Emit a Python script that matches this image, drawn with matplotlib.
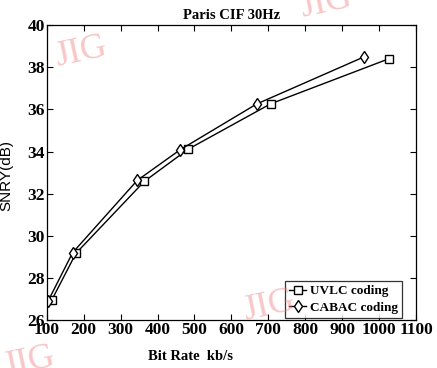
import numpy as np
import matplotlib
matplotlib.use('Agg')
import matplotlib.pyplot as plt

plt.rcParams['font.family'] = ['Liberation Serif', 'DejaVu Serif']

# values
uvlc_rate = [114, 179, 364, 482, 706, 1028]
uvlc_snr = [26.97, 29.17, 32.58, 34.10, 36.26, 38.41]
cabac_rate = [104, 170, 345, 461, 668, 958]
cabac_snr = [26.92, 29.20, 32.63, 34.08, 36.25, 38.48]

xticks = list(range(100, 1101, 100))
yticks = list(range(26, 41, 2))

fig = plt.figure(figsize=(4.37, 3.68), dpi=100)
ax = fig.add_axes([0.107, 0.130, 0.845, 0.802])

ax.plot(uvlc_rate, uvlc_snr, color='black', lw=1.0, marker='s', ms=6,
        mfc='white', mec='black', mew=1.0, label='UVLC coding')
ax.plot(cabac_rate, cabac_snr, color='black', lw=1.0, marker='d', ms=6,
        mfc='white', mec='black', mew=1.0, label='CABAC coding')

ax.set_xlim(100, 1100)
ax.set_ylim(26, 40)
ax.set_xticks(xticks)
ax.set_yticks(yticks)
ax.tick_params(direction='in', top=True, right=True, length=4, width=0.8,
               labelsize=12.5, pad=1.5)
for lab in ax.get_xticklabels() + ax.get_yticklabels():
    lab.set_fontweight('bold')
for s in ax.spines.values():
    s.set_linewidth(0.9)

ax.set_title('Paris CIF 30Hz', fontsize=10.5, fontweight='bold', pad=4)
ax.set_xlabel('Bit Rate  kb/s', fontsize=10.5, fontweight='bold')
ax.xaxis.set_label_coords(0.39, -0.1)
ax.set_ylabel('SNRY(dB)', fontsize=11, family=['Liberation Sans', 'DejaVu Sans'])
ax.yaxis.set_label_coords(-0.09, 0.49)

leg = ax.legend(loc='lower right', fontsize=9.5, frameon=True, fancybox=False,
                edgecolor='black', handlelength=1.3, handletextpad=0.3,
                borderpad=0.3, labelspacing=0.3, borderaxespad=0.2,
                bbox_to_anchor=(0.97, 0.0))
leg.get_frame().set_linewidth(0.9)
for t in leg.get_texts():
    t.set_fontweight('bold')

# watermark text
wm = dict(color='#f08080', alpha=0.45, fontsize=26, rotation=12)
fig.text(0.12, 0.82, 'JIG', **wm)
fig.text(0.55, 0.13, 'JIG', **wm)
fig.text(0.0, -0.02, 'JIG', **wm)
fig.text(0.68, 0.955, 'JIG', **wm)

fig.savefig('out.png', dpi=100)
